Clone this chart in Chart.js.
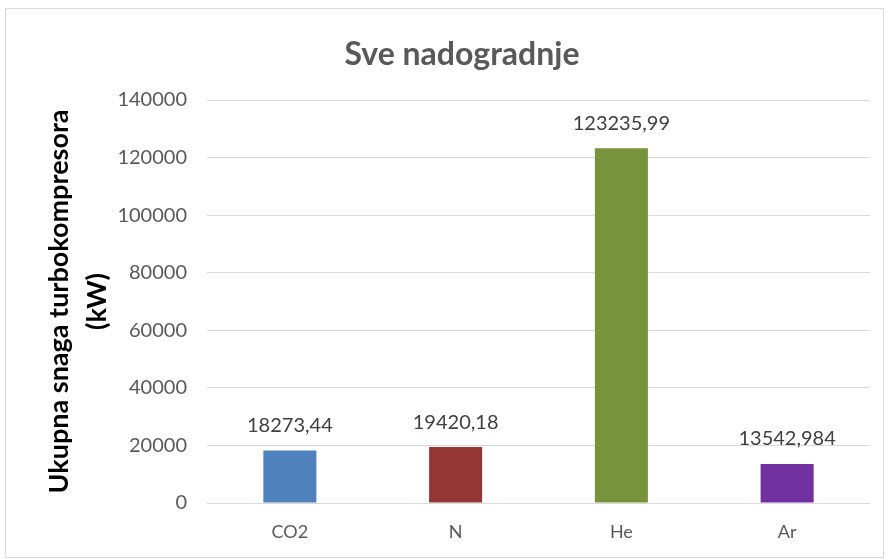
<!DOCTYPE html>
<html>
<head>
<meta charset="utf-8">
<script src="https://cdn.jsdelivr.net/npm/chart.js@4/dist/chart.umd.min.js"></script>
<style>
  html, body { margin: 0; padding: 0; background: #ffffff; }
  #wrap { position: absolute; left: 0; top: 0; width: 886px; height: 559px; }
</style>
</head>
<body>
<div id="wrap"><canvas id="c" width="886" height="559"></canvas></div>
<script>
// Gas categories and total turbocompressor power (kW) per upgrade
const categories = ['CO2', 'N', 'He', 'Ar'];
const values = [18273.44, 19420.18, 123235.99, 13542.984];
const valueLabels = ['18273,44', '19420,18', '123235,99', '13542,984'];
const barColors = ['#4F81BD', '#943634', '#77933C', '#7030A0'];
const yTicks = [0, 20000, 40000, 60000, 80000, 100000, 120000, 140000];
const chartTitle = 'Sve nadogradnje';

const FONT = "Lato, Carlito, 'Open Sans', sans-serif";

// Light frame around the whole chart, plus the chart heading
const framePlugin = {
  id: 'frame',
  beforeDraw(chart) {
    const ctx = chart.ctx;
    ctx.save();
    ctx.fillStyle = '#ffffff';
    ctx.fillRect(0, 0, chart.width, chart.height);
    ctx.strokeStyle = '#d9d9d9';
    ctx.lineWidth = 1;
    ctx.strokeRect(5.5, 8.5, 878, 549);
    ctx.font = 'bold 32px ' + FONT;
    ctx.fillStyle = '#595959';
    ctx.textAlign = 'center';
    ctx.textBaseline = 'middle';
    ctx.fillText(chartTitle, 462, 55);
    ctx.restore();
  }
};

// Value labels above each bar
const valueLabelPlugin = {
  id: 'valueLabels',
  afterDatasetsDraw(chart) {
    const ctx = chart.ctx;
    const meta = chart.getDatasetMeta(0);
    ctx.save();
    ctx.font = '20px ' + FONT;
    ctx.fillStyle = '#404040';
    ctx.textAlign = 'center';
    ctx.textBaseline = 'middle';
    meta.data.forEach((bar, i) => {
      ctx.fillText(valueLabels[i], bar.x, bar.y - 25);
    });
    ctx.restore();
  }
};

new Chart(document.getElementById('c'), {
  type: 'bar',
  data: {
    labels: categories,
    datasets: [{
      data: values,
      backgroundColor: barColors,
      borderWidth: 0,
      barPercentage: 0.64,
      categoryPercentage: 0.5
    }]
  },
  options: {
    responsive: false,
    animation: false,
    devicePixelRatio: 1,
    layout: { padding: { left: 0, right: 16, top: 100, bottom: 0 } },
    plugins: {
      legend: { display: false },
      tooltip: { enabled: false },
      title: { display: false }
    },
    scales: {
      x: {
        grid: { display: false, drawTicks: false },
        border: { display: false },
        ticks: {
          color: '#595959',
          font: { family: FONT, size: 18 },
          padding: 18
        },
        afterFit(scale) { scale.height = 56; }
      },
      y: {
        min: 0,
        max: 140000,
        afterBuildTicks(scale) { scale.ticks = yTicks.map(v => ({ value: v })); },
        grid: { color: '#d9d9d9', drawTicks: false, lineWidth: 1 },
        border: { display: false },
        ticks: {
          color: '#595959',
          font: { family: FONT, size: 20 },
          padding: 20,
          callback: (v) => String(v)
        },
        title: {
          display: true,
          text: ['Ukupna snaga turbokompresora', '(kW)'],
          color: '#000000',
          font: { family: FONT, size: 27, weight: 'bold', lineHeight: 1.41 },
          padding: { top: 40, bottom: 0 }
        },
        afterFit(scale) { scale.width = 207; }
      }
    }
  },
  plugins: [framePlugin, valueLabelPlugin]
});
</script>
</body>
</html>
